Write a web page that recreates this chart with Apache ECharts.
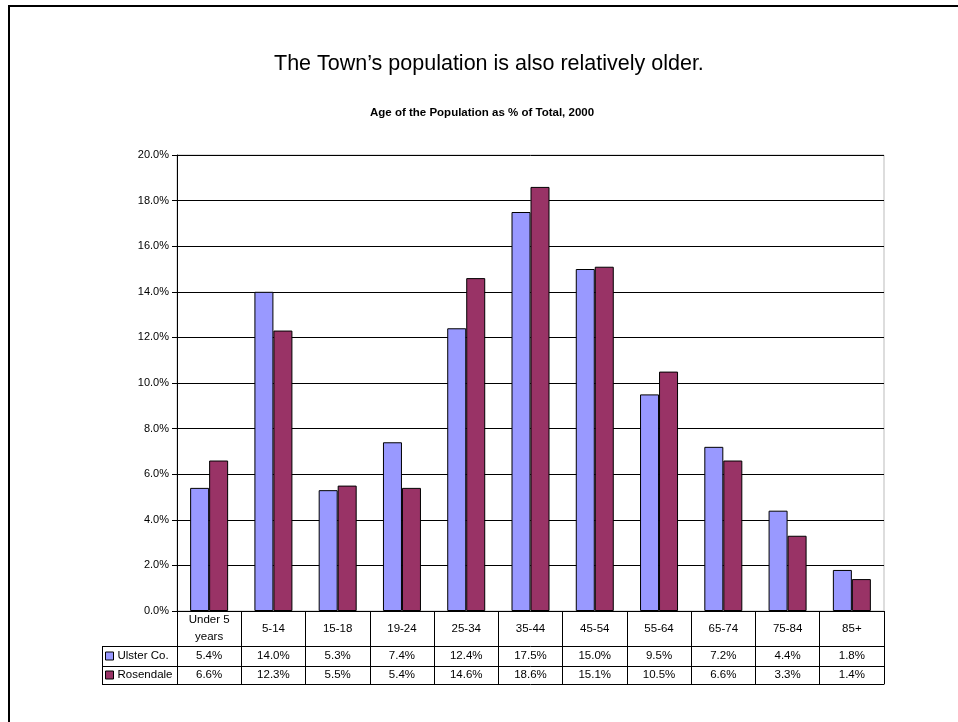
<!DOCTYPE html>
<html>
<head>
<meta charset="utf-8">
<script src="https://cdn.jsdelivr.net/npm/echarts@6/dist/echarts.min.js"></script>
<style>
html,body{margin:0;padding:0;background:#fff;}
#chart{width:958px;height:722px;}
</style>
</head>
<body>
<div id="chart"></div>
<script>
const categories = ['Under 5\nyears','5-14','15-18','19-24','25-34','35-44','45-54','55-64','65-74','75-84','85+'];
const seriesNames = ['Ulster Co.','Rosendale'];
const ulster = [5.4,14.0,5.3,7.4,12.4,17.5,15.0,9.5,7.2,4.4,1.8];
const rosendale = [6.6,12.3,5.5,5.4,14.6,18.6,15.1,10.5,6.6,3.3,1.4];
const yTicks = {min:0, max:20, interval:2};

const FONT = 'Liberation Sans, Arial, sans-serif';
const fmt = v => v.toFixed(1) + '%';
const GL = 177, GR = 884, GT = 155, GB = 611;

const chart = echarts.init(document.getElementById('chart'), null, {renderer:'canvas'});

const baseX = {
  type:'category', position:'bottom', gridIndex:0,
  axisTick:{show:false}, splitLine:{show:false},
  axisLine:{show:true, lineStyle:{color:'#000', width:1}},
  axisLabel:{interval:0, color:'#000', fontFamily:FONT, fontSize:11.5, verticalAlign:'middle'}
};

chart.setOption({
  animation:false,
  backgroundColor:'#fff',
  textStyle:{fontFamily:FONT},
  title:[
    {text:'The Town\u2019s population is also relatively older.', left:274, top:53, padding:0,
     textStyle:{fontFamily:FONT, fontSize:21.5, fontWeight:'normal', color:'#000'}},
    {text:'Age of the Population as % of Total, 2000', left:370, top:107, padding:0,
     textStyle:{fontFamily:FONT, fontSize:11.5, fontWeight:'bold', color:'#000'}}
  ],
  legend:{
    orient:'vertical', left:105, top:650, itemGap:7, padding:0,
    itemWidth:8, itemHeight:8, icon:'rect',
    data:seriesNames,
    textStyle:{fontFamily:FONT, fontSize:11.5, color:'#000', lineHeight:12, padding:[0,0,0,-1]},
    itemStyle:{borderColor:'#000', borderWidth:1}
  },
  grid:{left:GL, right:958-GR, top:GT, bottom:722-GB, show:true, borderColor:'#bbbbbb', borderWidth:1, containLabel:false},
  xAxis:[
    Object.assign({}, baseX, {
      data:categories, boundaryGap:true,
      axisTick:{show:true, alignWithLabel:false, interval:0, length:73, lineStyle:{color:'#000'}},
      axisLabel:Object.assign({}, baseX.axisLabel, {margin:17.5, lineHeight:17})
    }),
    Object.assign({}, baseX, {
      data:ulster.map(fmt), offset:35,
      axisLabel:Object.assign({}, baseX.axisLabel, {margin:10})
    }),
    Object.assign({}, baseX, {
      data:rosendale.map(fmt), offset:55,
      axisLabel:Object.assign({}, baseX.axisLabel, {margin:9})
    }),
    Object.assign({}, baseX, {
      data:categories, offset:73, axisLabel:{show:false}
    })
  ],
  yAxis:{
    type:'value', min:yTicks.min, max:yTicks.max, interval:yTicks.interval,
    axisLine:{show:true, lineStyle:{color:'#000'}},
    axisTick:{show:true, length:5, lineStyle:{color:'#000'}},
    axisLabel:{formatter:fmt, color:'#000', fontFamily:FONT, fontSize:11, margin:8},
    splitLine:{show:true, lineStyle:{color:'#000', width:1}}
  },
  series:[
    {name:seriesNames[0], type:'bar', data:ulster, xAxisIndex:0, barWidth:19, barGap:'0%',
     itemStyle:{color:'#9999FF', borderColor:'#000', borderWidth:1}},
    {name:seriesNames[1], type:'bar', data:rosendale, xAxisIndex:0, barWidth:19, barGap:'0%',
     itemStyle:{color:'#993366', borderColor:'#000', borderWidth:1}}
  ],
  graphic:[
    {type:'line', shape:{x1:9, y1:5, x2:9, y2:722}, style:{stroke:'#000', lineWidth:2}},
    {type:'line', shape:{x1:8, y1:6, x2:958, y2:6}, style:{stroke:'#000', lineWidth:2}},
    {type:'line', shape:{x1:102.5, y1:646, x2:102.5, y2:684}, style:{stroke:'#000', lineWidth:1}},
    {type:'line', shape:{x1:102, y1:646.5, x2:GL, y2:646.5}, style:{stroke:'#000', lineWidth:1}},
    {type:'line', shape:{x1:102, y1:666.5, x2:GL, y2:666.5}, style:{stroke:'#000', lineWidth:1}},
    {type:'line', shape:{x1:102, y1:684.5, x2:GL, y2:684.5}, style:{stroke:'#000', lineWidth:1}}
  ]
});
</script>
</body>
</html>
